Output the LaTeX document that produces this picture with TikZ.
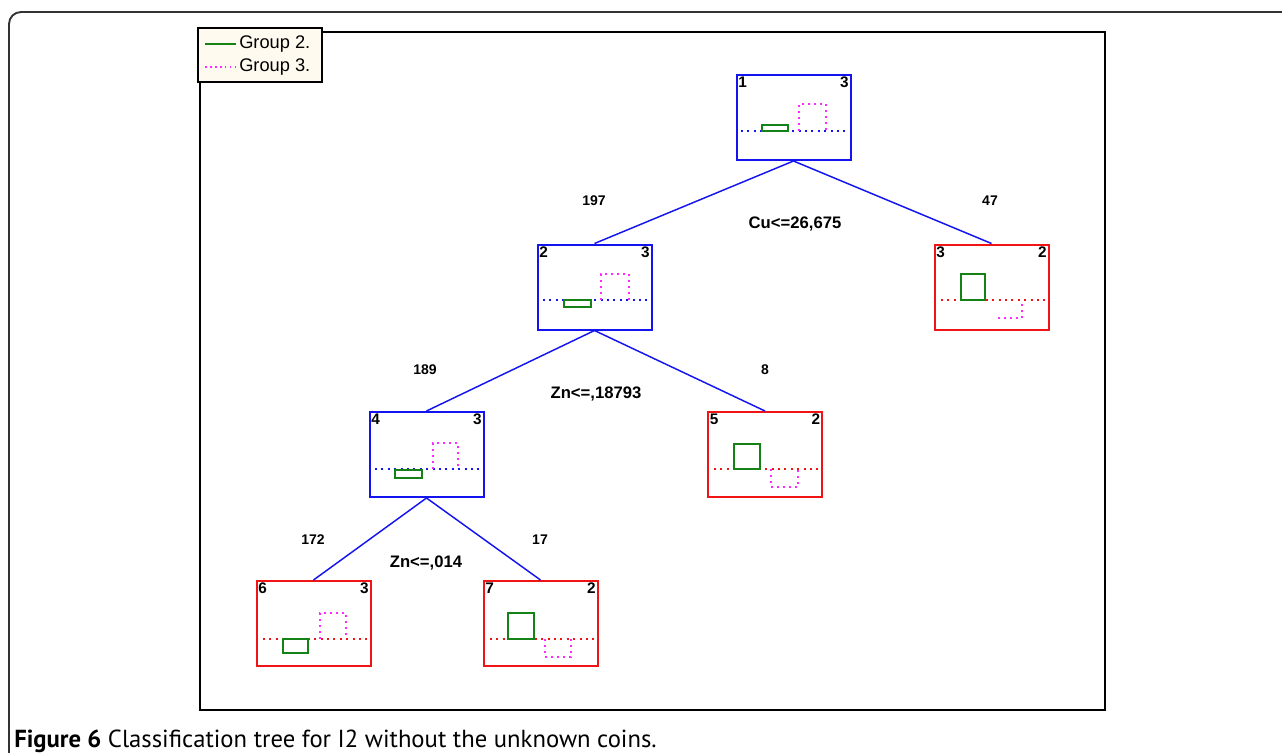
\documentclass[tikz,border=0pt]{standalone}
\usepackage{fontspec}
\setmainfont{Liberation Sans}
\newfontfamily\capfont{PT Sans}
\definecolor{tblue}{RGB}{20,20,240}
\definecolor{tred}{RGB}{240,20,20}
\definecolor{tgreen}{RGB}{20,130,20}
\definecolor{tmag}{RGB}{255,40,255}
\definecolor{legfill}{RGB}{255,250,240}
\begin{document}
\begin{tikzpicture}[x=0.75pt,y=-0.75pt,
  treebox/.style={draw, line width=1.5pt, minimum width=85.5pt, minimum height=63.75pt, inner sep=0pt},
  innode/.style={treebox, draw=tblue},
  leaf/.style={treebox, draw=tred},
  edge/.style={draw=tblue, line width=1.1pt},
  cornernum/.style={font=\bfseries\fontsize{11.5}{13}\selectfont, inner sep=2pt},
  splitlbl/.style={font=\bfseries\fontsize{12.5}{14}\selectfont, inner sep=0pt},
  cntlbl/.style={font=\bfseries\fontsize{10.5}{12}\selectfont, inner sep=0pt},
  grect/.style={draw=tgreen, line width=1.4pt},
  mrect/.style={draw=tmag, line width=1.5pt, dash pattern=on 1.5pt off 3pt},
  bline/.style={line width=1.5pt, dash pattern=on 1.5pt off 3.3pt}
]
\useasboundingbox (0,0) rectangle (1282,753);
% outer frame
\draw[line width=1.4pt, color=black!80, rounded corners=9pt] (9,753) -- (9,12) -- (1282,12);
% plot frame
\draw[line width=1.2pt] (200,32) rectangle (1105,710);
% legend
\node[draw, line width=1.1pt, fill=legfill, minimum width=93pt, minimum height=40.5pt, inner sep=0pt] (leg) at (260,55) {};
\coordinate (l2a) at (205,44); \coordinate (l2b) at (236,44);
\coordinate (l3a) at (205,67); \coordinate (l3b) at (236,67);
\draw[tgreen, line width=1.3pt] (l2a) -- (l2b);
\draw[tmag, line width=1.3pt, dash pattern=on 1.3pt off 2.4pt] (l3a) -- (l3b);
\node[anchor=west, inner sep=0pt, font=\fontsize{13.7}{16}\selectfont] (lt2) at (239,44) {Group 2.};
\node[anchor=west, inner sep=0pt, font=\fontsize{13.7}{16}\selectfont] (lt3) at (239,67) {Group 3.};
% tree nodes
\node[innode] (n1) at (793.5,117.5) {};
\node[innode] (n2) at (594.5,287) {};
\node[leaf]   (n3) at (991.5,287) {};
\node[innode] (n4) at (426.5,454.5) {};
\node[leaf]   (n5) at (765,454.5) {};
\node[leaf]   (n6) at (313.5,623.5) {};
\node[leaf]   (n7) at (540.5,623.5) {};
% edges
\draw[edge] (n1.south) -- (n2.north);
\draw[edge] (n1.south) -- (n3.north);
\draw[edge] (n2.south) -- (n4.north);
\draw[edge] (n2.south) -- (n5.north);
\draw[edge] (n4.south) -- (n6.north);
\draw[edge] (n4.south) -- (n7.north);
% corner numbers
\foreach \n/\a/\b in {n1/1/3, n2/2/3, n3/3/2, n4/4/3, n5/5/2, n6/6/3, n7/7/2}{
  \node[cornernum, anchor=north west] at (\n.north west) {\a};
  \node[cornernum, anchor=north east] at (\n.north east) {\b};
}
% labels
\node[cntlbl] (c197) at (594,201) {197};
\node[cntlbl] (c47) at (990,201) {47};
\node[splitlbl] (s1) at (795,224) {Cu<=26,675};
\node[cntlbl] (c189) at (425,370) {189};
\node[cntlbl] (c8) at (765,370) {8};
\node[splitlbl] (s2) at (596,394) {Zn<=,18793};
\node[cntlbl] (c172) at (313,540) {172};
\node[cntlbl] (c17) at (540,540) {17};
\node[splitlbl] (s3) at (426,563) {Zn<=,014};
% node 1
\draw[bline, tblue] (741,131) -- (849,131);
\draw[grect] (762,125) rectangle (788,131);
\draw[mrect] (799,131) -- (799,104) -- (826,104) -- (826,131);
% node 2
\draw[bline, tblue] (543,300) -- (650,300);
\draw[grect] (564,300) rectangle (591,307);
\draw[mrect] (601,300) -- (601,274) -- (629,274) -- (629,300);
% node 3
\draw[bline, tred] (941,300) -- (1046,300);
\draw[grect] (961,274) rectangle (985,300);
\draw[mrect] (998,318) -- (1022,318) -- (1022,300);
% node 4
\draw[bline, tblue] (375,469) -- (482,469);
\draw[grect] (395,470) rectangle (422,478);
\draw[mrect] (433,469) -- (433,443) -- (458,443) -- (458,469);
% node 5
\draw[bline, tred] (714,469) -- (820,469);
\draw[grect] (734,444) rectangle (760,469);
\draw[mrect] (771,469) -- (771,487) -- (798,487) -- (798,469);
% node 6
\draw[bline, tred] (263,639) -- (368,639);
\draw[grect] (283,639) rectangle (308,653);
\draw[mrect] (320,639) -- (320,613) -- (346,613) -- (346,639);
% node 7
\draw[bline, tred] (490,639) -- (595,639);
\draw[grect] (508,613) rectangle (534,639);
\draw[mrect] (545,639) -- (545,657) -- (571,657) -- (571,639);
% caption
\node[anchor=base west, inner sep=0pt, font=\capfont\fontsize{18.5}{20}\selectfont] (cap) at (14,747) {\textbf{Figure 6} Classification tree for I2 without the unknown coins.};
\end{tikzpicture}
\end{document}
